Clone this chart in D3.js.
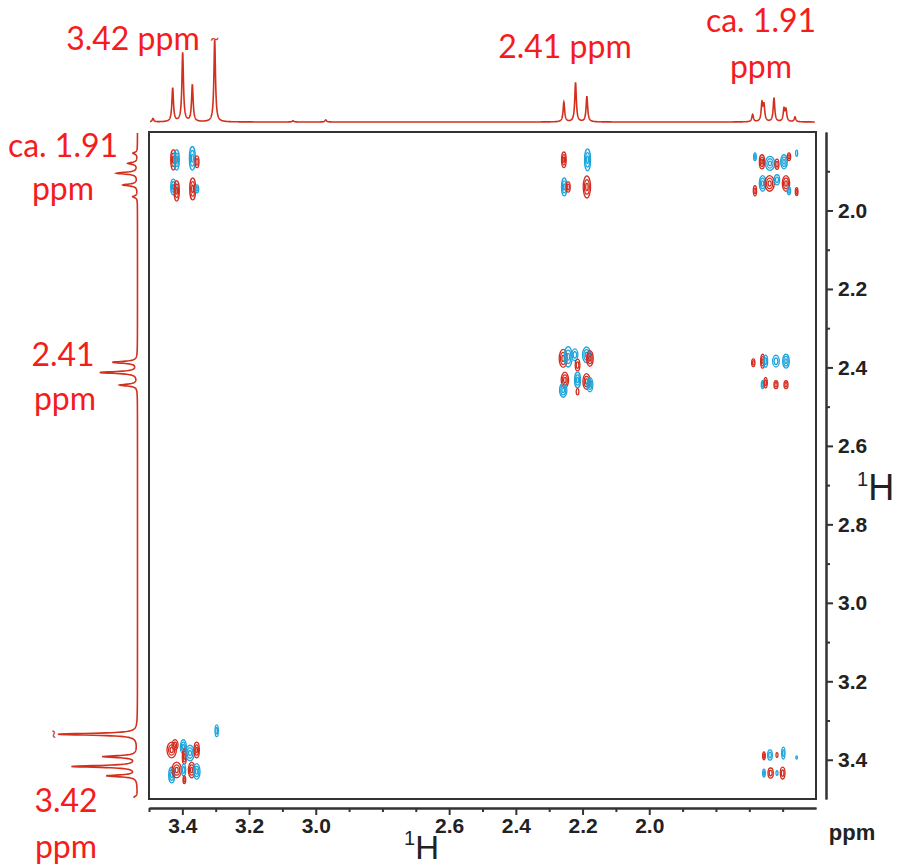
<!DOCTYPE html>
<html>
<head>
<meta charset="utf-8">
<script src="https://cdn.jsdelivr.net/npm/d3@7"></script>
<style>
  body { margin: 0; background: #fff; }
  svg { display: block; }
</style>
</head>
<body>
<div id="chart"></div>
<script>
// axis ticks (ppm)
var xTickValues = [3.4, 3.2, 3.0, 2.6, 2.4, 2.2, 2.0];
var xMinorTicks = [3.5, 3.3, 3.1, 2.9, 2.8, 2.7, 2.5, 2.3, 2.1, 1.9, 1.8, 1.7, 1.6];
var yTickValues = [2.0, 2.2, 2.4, 2.6, 2.8, 3.0, 3.2, 3.4];
var yMinorTicks = [1.9, 2.1, 2.3, 2.5, 2.7, 2.9, 3.1, 3.3];

// 1D projection on top: peak shift (ppm) and intensity (a.u.)
var topShifts  = [3.488, 3.429, 3.399, 3.370, 3.303, 3.068, 2.970, 2.256, 2.221, 2.187, 1.690, 1.662, 1.656, 1.626, 1.596, 1.590, 1.563];
var topHeights = [4, 41, 84, 45, 100, 1.5, 2.5, 24, 48, 31, 9, 22, 19, 29, 15, 14, 6];

// 1D projection on the left
var leftShifts  = [1.854, 1.880, 1.905, 1.935, 1.965, 2.387, 2.413, 2.445, 3.335, 3.392, 3.417, 3.441, 3.495];
var leftHeights = [5.6, 12, 26, 18, 6, 31, 47, 22, 100, 43, 82, 38, 4];

// cross peaks: [x ppm, y ppm, half width x, half width y, sign]
var crossA = [
  [3.427, 1.871, 0.008, 0.026, 1], [3.417, 1.871, 0.008, 0.026, -1],
  [3.370, 1.867, 0.009, 0.030, -1], [3.356, 1.876, 0.006, 0.015, 1],
  [3.427, 1.940, 0.008, 0.020, -1], [3.417, 1.950, 0.008, 0.026, 1],
  [3.369, 1.945, 0.009, 0.028, 1], [3.356, 1.945, 0.005, 0.010, -1]
];
var crossB = [
  [2.256, 1.871, 0.007, 0.020, 1], [2.185, 1.871, 0.009, 0.028, -1],
  [2.255, 1.940, 0.008, 0.023, -1], [2.243, 1.940, 0.006, 0.013, 1],
  [2.187, 1.940, 0.011, 0.028, 1]
];
var crossC = [
  [1.683, 1.863, 0.004, 0.010, -1], [1.662, 1.876, 0.008, 0.018, 1],
  [1.638, 1.880, 0.014, 0.018, -1], [1.617, 1.882, 0.006, 0.013, 1],
  [1.596, 1.876, 0.010, 0.018, -1], [1.581, 1.863, 0.005, 0.010, 1],
  [1.558, 1.854, 0.003, 0.008, -1],
  [1.683, 1.950, 0.005, 0.013, 1], [1.660, 1.931, 0.010, 0.020, -1],
  [1.639, 1.931, 0.014, 0.020, 1], [1.617, 1.922, 0.008, 0.013, -1],
  [1.590, 1.931, 0.011, 0.020, 1], [1.581, 1.950, 0.005, 0.010, -1],
  [1.558, 1.952, 0.004, 0.010, 1]
];
var crossD = [
  [2.258, 2.377, 0.012, 0.023, 1], [2.243, 2.373, 0.012, 0.026, -1],
  [2.223, 2.368, 0.009, 0.015, -1], [2.188, 2.368, 0.012, 0.020, -1],
  [2.178, 2.377, 0.010, 0.020, 1], [2.215, 2.394, 0.007, 0.015, 1],
  [2.253, 2.432, 0.011, 0.020, 1], [2.258, 2.458, 0.011, 0.018, -1],
  [2.215, 2.432, 0.009, 0.020, -1], [2.188, 2.436, 0.011, 0.020, 1],
  [2.178, 2.444, 0.009, 0.018, -1], [2.215, 2.462, 0.004, 0.008, 1]
];
var crossE = [
  [1.688, 2.388, 0.005, 0.010, 1], [1.660, 2.384, 0.006, 0.018, 1],
  [1.651, 2.384, 0.006, 0.015, -1], [1.620, 2.384, 0.010, 0.015, -1],
  [1.590, 2.384, 0.010, 0.018, -1],
  [1.660, 2.444, 0.004, 0.010, -1], [1.651, 2.439, 0.005, 0.013, 1],
  [1.620, 2.444, 0.006, 0.010, 1], [1.590, 2.444, 0.006, 0.010, 1]
];
var crossF = [
  [3.297, 3.326, 0.005, 0.015, -1],
  [3.432, 3.375, 0.014, 0.020, 1], [3.422, 3.362, 0.009, 0.013, 1],
  [3.397, 3.367, 0.009, 0.018, -1], [3.394, 3.392, 0.006, 0.020, 1],
  [3.377, 3.383, 0.013, 0.020, -1], [3.357, 3.375, 0.008, 0.020, 1],
  [3.432, 3.439, 0.009, 0.020, -1], [3.417, 3.426, 0.014, 0.020, 1],
  [3.396, 3.426, 0.006, 0.015, -1], [3.394, 3.451, 0.004, 0.010, 1],
  [3.372, 3.426, 0.010, 0.020, 1], [3.357, 3.430, 0.010, 0.020, -1]
];
var crossG = [
  [1.656, 3.390, 0.004, 0.010, 1], [1.638, 3.388, 0.007, 0.013, -1],
  [1.617, 3.388, 0.003, 0.006, 1], [1.598, 3.383, 0.005, 0.015, -1],
  [1.558, 3.394, 0.002, 0.004, -1],
  [1.656, 3.434, 0.004, 0.010, -1], [1.636, 3.434, 0.008, 0.013, 1],
  [1.617, 3.434, 0.003, 0.006, -1], [1.600, 3.434, 0.007, 0.015, 1]
];

(function () {
  var W = 898, H = 866;
  var pL = 149, pR = 816, pT = 132, pB = 799;
  var red = "#d42b1e", blue = "#1ea5dc", lineRed = "#d32f1c", textRed = "#f41c1c";

  var svg = d3.select("#chart").append("svg")
    .attr("width", W).attr("height", H);

  var x = d3.scaleLinear().domain([3.5, 1.5]).range([pL, pR]);
  var y = d3.scaleLinear().domain([1.8, 3.5]).range([pT, pB]);

  // intensity scales for projections
  var topI = d3.scaleLinear().domain([0, 100]).range([122, 40]);
  var leftI = d3.scaleLinear().domain([0, 100]).range([137.5, 58]);

  // line shape for each listed peak
  function shape(shifts, heights, v, w) {
    var s = 0;
    for (var i = 0; i < shifts.length; i++) {
      var d = (v - shifts[i]) / w;
      s += heights[i] / (1 + d * d);
    }
    return s;
  }
  var gridX = d3.range(3.497, 1.503, -0.0005);
  svg.append("path")
    .attr("fill", "none").attr("stroke", lineRed).attr("stroke-width", 1.6)
    .attr("d", d3.line()
      .x(function (v) { return x(v); })
      .y(function (v) { return topI(shape(topShifts, topHeights, v, 0.0028)); })(gridX));

  var gridY = d3.range(1.8025, 3.497, 0.0005);
  svg.append("path")
    .attr("fill", "none").attr("stroke", lineRed).attr("stroke-width", 1.6)
    .attr("d", d3.line()
      .x(function (v) { return leftI(shape(leftShifts, leftHeights, v, 0.0028)); })
      .y(function (v) { return y(v); })(gridY));

  // truncation marks
  svg.append("text").attr("x", x(3.303)).attr("y", 44)
    .attr("text-anchor", "middle").attr("font-family", "Lato, sans-serif")
    .attr("font-size", 16).attr("fill", lineRed).text("~");
  svg.append("text")
    .attr("transform", "translate(" + (leftI(100) - 4) + "," + y(3.335) + ") rotate(90)")
    .attr("text-anchor", "middle").attr("dy", "0.3em").attr("font-family", "Lato, sans-serif")
    .attr("font-size", 16).attr("fill", lineRed).text("~");

  // cross peak contours
  var all = [].concat(crossA, crossB, crossC, crossD, crossE, crossF, crossG);
  var pxPerX = Math.abs(x(0) - x(1)), pxPerY = Math.abs(y(1) - y(0));
  var contours = svg.append("g").attr("fill", "none").attr("stroke-width", 1.3);
  all.forEach(function (p) {
    var levels = p[3] >= 0.018 ? [1, 0.66, 0.33] : (p[3] >= 0.010 ? [1, 0.55] : [1]);
    levels.forEach(function (f) {
      contours.append("ellipse")
        .attr("cx", x(p[0])).attr("cy", y(p[1]))
        .attr("rx", Math.max(0.8, p[2] * pxPerX * f))
        .attr("ry", Math.max(1.2, p[3] * pxPerY * f))
        .attr("stroke", p[4] > 0 ? red : blue);
    });
  });

  // frame
  svg.append("rect")
    .attr("x", pL).attr("y", pT)
    .attr("width", pR - pL).attr("height", pB - pT)
    .attr("fill", "none").attr("stroke", "#333").attr("stroke-width", 2);

  // axes
  var xAxisY = pB + 9, yAxisX = pR + 10;
  svg.append("g")
    .attr("transform", "translate(0," + xAxisY + ")")
    .call(d3.axisBottom(x).tickValues(xMinorTicks).tickSize(4).tickSizeOuter(0).tickFormat(""))
    .attr("class", "minor");
  svg.append("g")
    .attr("transform", "translate(" + yAxisX + ",0)")
    .call(d3.axisRight(y).tickValues(yMinorTicks).tickSize(4).tickSizeOuter(0).tickFormat(""))
    .attr("class", "minor");
  var xAxis = svg.append("g")
    .attr("transform", "translate(0," + xAxisY + ")")
    .call(d3.axisBottom(x).tickValues(xTickValues).tickSize(7).tickSizeOuter(0)
      .tickFormat(d3.format(".1f")));
  var yAxis = svg.append("g")
    .attr("transform", "translate(" + yAxisX + ",0)")
    .call(d3.axisRight(y).tickValues(yTickValues).tickSize(7).tickSizeOuter(0)
      .tickFormat(d3.format(".1f")));
  svg.selectAll(".domain").attr("stroke", "#333").attr("stroke-width", 2);
  svg.selectAll(".tick line").attr("stroke", "#333").attr("stroke-width", 2);
  [xAxis, yAxis].forEach(function (g) {
    g.selectAll(".tick text")
      .attr("font-family", "'Liberation Sans', Arial, sans-serif")
      .attr("font-weight", "bold").attr("font-size", 21).attr("fill", "#222");
  });
  xAxis.selectAll(".tick text").attr("y", 10).attr("dy", "0.71em");
  yAxis.selectAll(".tick text").attr("x", 12);

  svg.append("text").attr("x", 852).attr("y", 840)
    .attr("text-anchor", "middle")
    .attr("font-family", "'Liberation Sans', Arial, sans-serif")
    .attr("font-weight", "bold").attr("font-size", 22).attr("fill", "#222").text("ppm");

  // 1H axis titles
  function nucleus(px, py, size) {
    var t = svg.append("text").attr("x", px).attr("y", py)
      .attr("font-family", "'Liberation Sans', Arial, sans-serif").attr("fill", "#222");
    t.append("tspan").attr("font-size", 20).attr("dy", -14).text("1");
    t.append("tspan").attr("font-size", size).attr("dy", 14).text("H");
  }
  nucleus(404, 859, 33);
  nucleus(857, 500, 36);

  // red annotations
  var notes = [
    { x: 133, y: 50, t: "3.42 ppm" },
    { x: 565, y: 58, t: "2.41 ppm" },
    { x: 761, y: 32, t: "ca. 1.91" },
    { x: 761, y: 78, t: "ppm" },
    { x: 63, y: 157, t: "ca. 1.91" },
    { x: 63, y: 200, t: "ppm" },
    { x: 63, y: 366, t: "2.41" },
    { x: 65, y: 410, t: "ppm" },
    { x: 66, y: 812, t: "3.42" },
    { x: 66, y: 858, t: "ppm" }
  ];
  svg.selectAll(".note").data(notes).enter().append("text")
    .attr("class", "note")
    .attr("x", function (d) { return d.x; })
    .attr("y", function (d) { return d.y; })
    .attr("text-anchor", "middle")
    .attr("font-family", "Lato, 'Open Sans', sans-serif")
    .attr("font-size", 32).attr("fill", textRed)
    .text(function (d) { return d.t; });
})();
</script>
</body>
</html>
